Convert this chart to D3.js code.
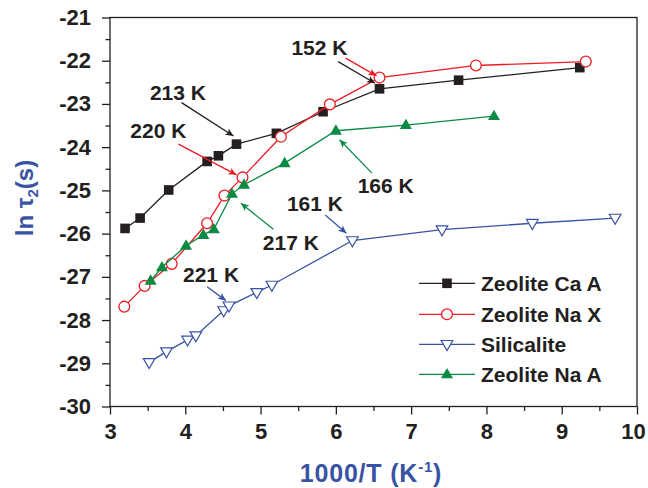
<!DOCTYPE html>
<html>
<head>
<meta charset="utf-8">
<script src="https://cdn.jsdelivr.net/npm/d3@7"></script>
<style>
  html, body { margin: 0; padding: 0; background: #fff; }
  svg { display: block; }
  text { font-family: "Liberation Sans", Arial, Helvetica, sans-serif; font-weight: bold; }
</style>
</head>
<body>
<svg id="chart" width="648" height="488"></svg>
<script>
// Relaxation time ln(tau2) versus inverse temperature for four adsorbents
const seriesNames = ["Zeolite Ca A", "Zeolite Na X", "Silicalite", "Zeolite Na A"];

const caA_x = [3.20, 3.40, 3.78, 4.29, 4.44, 4.68, 5.21, 5.83, 6.58, 7.63, 9.24];
const caA_y = [-25.88, -25.64, -24.99, -24.33, -24.20, -23.93, -23.68, -23.18, -22.65, -22.45, -22.16];

const naX_x = [3.19, 3.46, 3.82, 4.29, 4.52, 4.76, 5.27, 5.92, 6.58, 7.86, 9.32];
const naX_y = [-27.69, -27.21, -26.70, -25.76, -25.12, -24.70, -23.76, -23.01, -22.39, -22.11, -22.02];

const sil_x = [3.52, 3.75, 4.03, 4.14, 4.51, 4.58, 4.95, 5.15, 6.22, 7.41, 8.61, 9.71];
const sil_y = [-28.98, -28.73, -28.46, -28.36, -27.78, -27.67, -27.36, -27.19, -26.16, -25.91, -25.76, -25.64];

const naA_x = [3.54, 3.69, 4.01, 4.24, 4.38, 4.62, 4.78, 5.32, 6.00, 6.93, 8.10];
const naA_y = [-27.09, -26.78, -26.28, -26.03, -25.90, -25.08, -24.87, -24.37, -23.62, -23.49, -23.28];

const xTickValues = [3, 4, 5, 6, 7, 8, 9, 10];
const yTickValues = [-21, -22, -23, -24, -25, -26, -27, -28, -29, -30];

// Temperature call-outs: label text, label anchor (data units), arrows (from -> to, data units)
const noteLabels = ["152 K", "213 K", "220 K", "166 K", "161 K", "217 K", "221 K"];
const noteTextX = [5.41, 3.53, 3.27, 6.29, 5.35, 5.03, 3.97];
const noteTextY = [-21.87, -22.91, -23.79, -25.06, -25.47, -26.39, -27.11];
const arrowSeries = [0, 1, 0, 1, 3, 2, 3, 2];
const arrowX1 = [6.03, 6.13, 3.95, 3.91, 6.48, 5.86, 5.17, 4.29];
const arrowY1 = [-22.02, -21.94, -22.97, -23.93, -24.60, -25.57, -25.90, -27.23];
const arrowX2 = [6.52, 6.54, 4.64, 4.68, 6.05, 6.14, 4.74, 4.54];
const arrowY2 = [-22.52, -22.35, -23.74, -24.64, -23.83, -25.99, -25.30, -27.55];

const colors = ["#231f20", "#ed1c24", "#3953a4", "#0b8a43"];
const symbols = ["square", "circle", "down", "up"];
const textColor = "#231f20";
const axisBlue = "#3953a4";

const svg = d3.select("#chart");
const plot = { left: 110, right: 637, top: 17.5, bottom: 406.5 };

const x = d3.scaleLinear().domain([3, 10]).range([plot.left, plot.right]);
const y = d3.scaleLinear().domain([-30, -21]).range([plot.bottom, plot.top]);

// Arrowhead markers, one per colour
const defs = svg.append("defs");
colors.forEach((c, i) => {
  defs.append("marker")
    .attr("id", "arrow" + i)
    .attr("markerUnits", "userSpaceOnUse")
    .attr("viewBox", "0 0 10 10")
    .attr("refX", 10).attr("refY", 5)
    .attr("markerWidth", 10).attr("markerHeight", 8)
    .attr("orient", "auto")
    .append("path").attr("d", "M0,0.5 L10,5 L0,9.5 L2.5,5 Z").attr("fill", c);
});

// Axes: left and bottom with outward ticks, minor ticks at half units
const plainNumber = d => String(d);
const yAxis = d3.axisLeft(y).tickValues(yTickValues).tickSize(8).tickPadding(11).tickFormat(plainNumber);
const yMinor = d3.axisLeft(y).tickValues(d3.range(-29.5, -21, 1)).tickSize(4.5).tickFormat("");
const xAxis = d3.axisBottom(x).tickValues(xTickValues).tickSize(8).tickPadding(9).tickFormat(plainNumber);
const xMinor = d3.axisBottom(x).tickValues(d3.range(3.5, 10, 1)).tickSize(4.5).tickFormat("");

function styleAxis(g) {
  g.select(".domain").remove();
  g.selectAll(".tick line").attr("stroke", textColor).attr("stroke-width", 1.3);
  g.selectAll(".tick text").attr("fill", textColor).attr("font-size", 22)
    .attr("font-family", "'Liberation Sans', Arial, sans-serif").attr("font-weight", "bold");
}
svg.append("g").attr("transform", `translate(${plot.left},0)`).call(yAxis).call(styleAxis);
svg.append("g").attr("transform", `translate(${plot.left},0)`).call(yMinor).call(styleAxis);
const gx = svg.append("g").attr("transform", `translate(0,${plot.bottom})`).call(xAxis).call(styleAxis);
svg.append("g").attr("transform", `translate(0,${plot.bottom})`).call(xMinor).call(styleAxis);
// keep the last tick label inside the canvas
gx.selectAll(".tick text").filter(d => d === 10).attr("dx", -4);

// Plot frame
svg.append("rect")
  .attr("x", plot.left).attr("y", plot.top)
  .attr("width", plot.right - plot.left).attr("height", plot.bottom - plot.top)
  .attr("fill", "none").attr("stroke", textColor).attr("stroke-width", 1.3);

// Axis titles
const yTitle = svg.append("text")
  .attr("transform", `translate(33,198) rotate(-90)`)
  .attr("text-anchor", "middle").attr("fill", axisBlue).attr("font-size", 24);
yTitle.append("tspan").text("ln ");
yTitle.append("tspan").text("τ");
yTitle.append("tspan").attr("font-size", 15).attr("dy", 5).text("2");
yTitle.append("tspan").attr("dy", -5).text("(s)");

const xTitle = svg.append("text")
  .attr("x", 371).attr("y", 482)
  .attr("text-anchor", "middle").attr("fill", axisBlue).attr("font-size", 25)
  .attr("letter-spacing", 0.8);
xTitle.append("tspan").text("1000/T (K");
xTitle.append("tspan").attr("font-size", 15).attr("dy", -10).text("-1");
xTitle.append("tspan").attr("dy", 10).text(")");

// Marker shapes
function drawMarker(g, kind, cx, cy, color) {
  if (kind === "square") {
    g.append("rect").attr("x", cx - 4.8).attr("y", cy - 4.8).attr("width", 9.6).attr("height", 9.6)
      .attr("fill", color);
  } else if (kind === "circle") {
    g.append("circle").attr("cx", cx).attr("cy", cy).attr("r", 5.4)
      .attr("fill", "#fff").attr("stroke", color).attr("stroke-width", 1.3);
  } else if (kind === "down") {
    g.append("path").attr("d", `M${cx - 5.8},${cy - 3.8} L${cx + 5.8},${cy - 3.8} L${cx},${cy + 6.2} Z`)
      .attr("fill", "#fff").attr("stroke", color).attr("stroke-width", 1.2);
  } else {
    g.append("path").attr("d", `M${cx - 6},${cy + 4} L${cx + 6},${cy + 4} L${cx},${cy - 6.4} Z`)
      .attr("fill", color);
  }
}

const seriesX = [caA_x, naX_x, sil_x, naA_x];
const seriesY = [caA_y, naX_y, sil_y, naA_y];
const line = d3.line().x(d => x(d[0])).y(d => y(d[1]));

seriesNames.forEach((name, i) => {
  const pts = seriesX[i].map((v, j) => [v, seriesY[i][j]]);
  const g = svg.append("g");
  g.append("path").datum(pts).attr("d", line)
    .attr("fill", "none").attr("stroke", colors[i]).attr("stroke-width", 1.3);
  pts.forEach(p => drawMarker(g, symbols[i], x(p[0]), y(p[1]), colors[i]));
});

// Call-out arrows and temperature labels
arrowX1.forEach((v, i) => {
  svg.append("line")
    .attr("x1", x(v)).attr("y1", y(arrowY1[i]))
    .attr("x2", x(arrowX2[i])).attr("y2", y(arrowY2[i]))
    .attr("stroke", colors[arrowSeries[i]]).attr("stroke-width", 1.3)
    .attr("marker-end", `url(#arrow${arrowSeries[i]})`);
});
noteLabels.forEach((t, i) => {
  svg.append("text").attr("x", x(noteTextX[i])).attr("y", y(noteTextY[i]))
    .attr("fill", textColor).attr("font-size", 21).text(t);
});

// Legend
const legendRows = [283.3, 314.3, 344.3, 374.3];
seriesNames.forEach((name, i) => {
  const g = svg.append("g");
  g.append("line").attr("x1", 419).attr("x2", 475).attr("y1", legendRows[i]).attr("y2", legendRows[i])
    .attr("stroke", colors[i]).attr("stroke-width", 1.3);
  drawMarker(g, symbols[i], 447, legendRows[i], colors[i]);
  g.append("text").attr("x", 481).attr("y", legendRows[i] + 7.5)
    .attr("fill", textColor).attr("font-size", 21).text(name);
});
</script>
</body>
</html>
